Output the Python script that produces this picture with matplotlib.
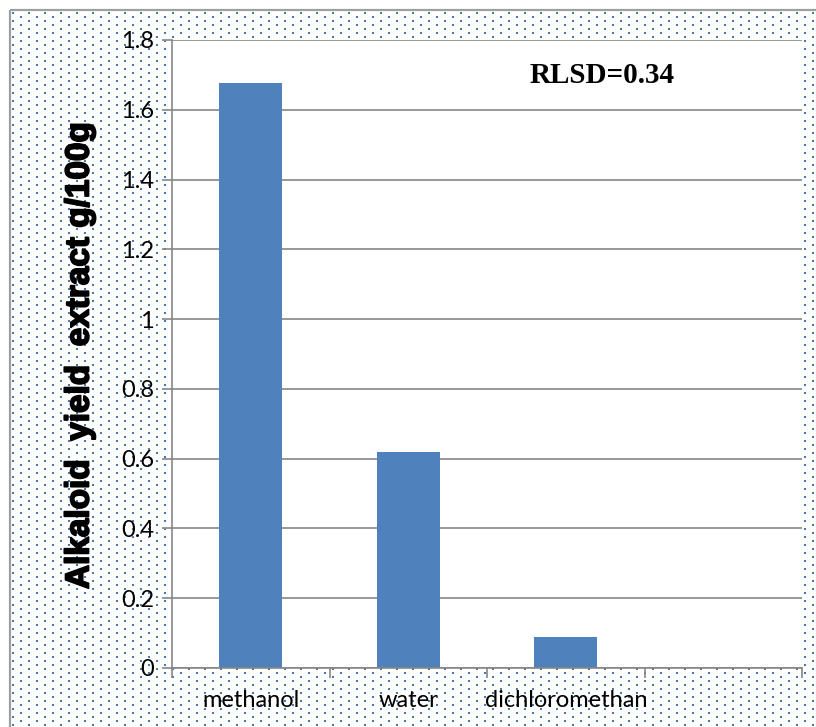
import numpy as np
import matplotlib
matplotlib.use("Agg")
import matplotlib.pyplot as plt
import matplotlib.patheffects as pe

# data
categories = ["methanol", "water", "dichloromethan", ""]
values = [1.677, 0.619, 0.09]
yticks = [0, 0.2, 0.4, 0.6, 0.8, 1.0, 1.2, 1.4, 1.6, 1.8]
ylabel = "Alkaloid  yield  extract g/100g"
note = "RLSD=0.34"

W, H = 816, 727
fig = plt.figure(figsize=(W / 100, H / 100), dpi=100)
fig.patch.set_facecolor("white")

# dotted chart-area background (Excel pattern fill)
bg = fig.add_axes([0, 0, 1, 1], zorder=0)
bg.set_xlim(0, W)
bg.set_ylim(H, 0)
bg.axis("off")
xs, ys = [], []
for k, y in enumerate(np.arange(13, H, 4)):
    row = np.arange(13 + (k % 2) * 8, W, 16)
    xs.extend(row)
    ys.extend([y] * len(row))
bg.scatter(xs, ys, s=3.2, marker="s", color="#4579BA", linewidths=0)
bg.plot([10, 10], [H, 10], color="#A0A0A0", lw=1.6, solid_capstyle="butt")
bg.plot([10, W], [10, 10], color="#A0A0A0", lw=1.6, solid_capstyle="butt")

ax = fig.add_axes([172 / W, 1 - 668 / H, 630 / W, 628 / H], zorder=1)
ax.set_facecolor("white")
x = np.arange(len(values))
ax.bar(x, values, width=0.4, color="#4F81BD", zorder=2)

ax.set_xlim(-0.5, len(categories) - 0.5)
ax.set_ylim(0, 1.8)
ax.set_yticks(yticks)
ax.set_yticklabels([f"{v:g}" for v in yticks], fontsize=17, family="Lato")
ax.yaxis.grid(True, color="#868686", lw=1.2, zorder=0)
ax.set_axisbelow(True)

ax.set_xticks(np.arange(-0.5, len(categories), 1))
ax.set_xticklabels([])
ax.set_xticks(np.arange(len(categories)), minor=True)
ax.set_xticklabels(categories, minor=True, fontsize=17, family="Lato")
ax.tick_params(axis="x", which="major", length=7, width=1.2, color="#868686")
ax.tick_params(axis="x", which="minor", length=0, pad=16)
ax.tick_params(axis="y", length=7, width=1.2, color="#868686", pad=6)

for s in ["top", "right"]:
    ax.spines[s].set_visible(False)
for s in ["left", "bottom"]:
    ax.spines[s].set_color("#868686")
    ax.spines[s].set_linewidth(1.2)

ax.text(0.683, 0.944, note, transform=ax.transAxes, ha="center", va="center",
        fontsize=21, fontweight="bold", family="Liberation Serif")

fig.text(80 / W, 1 - 355 / H, ylabel, rotation=90, ha="center", va="center",
         fontsize=24, fontweight="heavy", family="Liberation Sans",
         path_effects=[pe.withStroke(linewidth=1.3, foreground="black")])

plt.savefig("out.png", dpi=100)
